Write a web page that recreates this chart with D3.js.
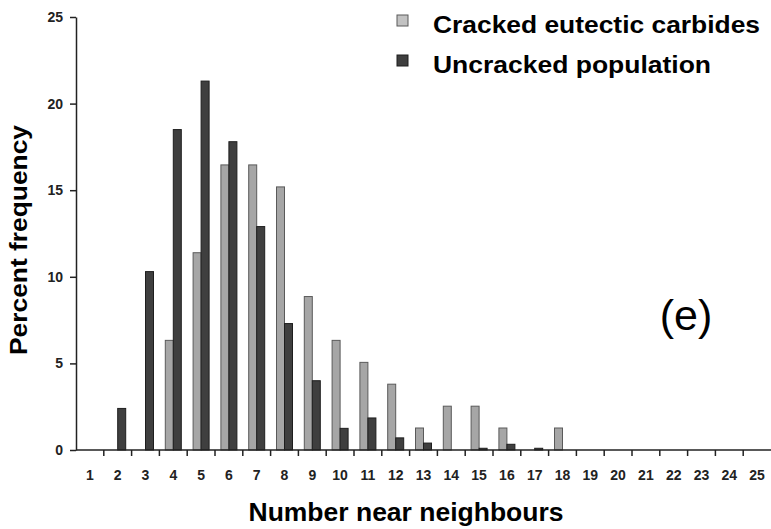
<!DOCTYPE html>
<html>
<head>
<meta charset="utf-8">
<script src="https://cdn.jsdelivr.net/npm/d3@7"></script>
<style>
  body { margin: 0; background: #fff; }
  text { font-family: "Liberation Sans", Arial, sans-serif; }
</style>
</head>
<body>
<svg id="chart" width="771" height="529"></svg>
<script>
// number of near neighbours (x categories)
const categories = d3.range(1, 26).map(String);
const seriesNames = ["Cracked eutectic carbides", "Uncracked population"];
// percent frequency
const cracked = [0, 0, 0, 6.33, 11.39, 16.46, 16.46, 15.19, 8.86, 6.33, 5.06, 3.8, 1.27,
  2.53, 2.53, 1.27, 0, 1.27, 0, 0, 0, 0, 0, 0, 0];
const uncracked = [0, 2.4, 10.3, 18.5, 21.3, 17.8, 12.9, 7.3, 4.0, 1.25, 1.85, 0.7, 0.4,
  0, 0.1, 0.33, 0.1, 0, 0, 0, 0, 0, 0, 0, 0];
const yTicks = [0, 5, 10, 15, 20, 25];

const fills = ["#a6a6a6", "#3f3f3f"];
const strokes = ["#5a5a5a", "#1e1e1e"];

const svg = d3.select("#chart");
const mLeft = 76, mRight = 771, mTop = 17, mBottom = 450;

const x = d3.scaleBand().domain(categories).range([mLeft, mRight]).padding(0);
const bw = x.bandwidth();
const xs = d3.scaleBand().domain(seriesNames).range([bw / 2 - 8, bw / 2 + 8]);
const y = d3.scaleLinear().domain([0, 25]).range([mBottom, mTop]);

// bars
const series = [cracked, uncracked];
series.forEach((vals, si) => {
  svg.append("g")
    .selectAll("rect")
    .data(vals.map((v, i) => ({ cat: categories[i], v })).filter(d => d.v > 0))
    .join("rect")
    .attr("x", d => x(d.cat) + xs(seriesNames[si]))
    .attr("y", d => y(d.v))
    .attr("width", xs.bandwidth())
    .attr("height", d => mBottom - y(d.v))
    .attr("fill", fills[si])
    .attr("stroke", strokes[si])
    .attr("stroke-width", 1);
});

// y axis
const yAxis = svg.append("g")
  .attr("transform", `translate(${mLeft},0)`)
  .call(d3.axisLeft(y).tickValues(yTicks).tickSize(6).tickPadding(7).tickSizeOuter(0));
yAxis.select(".domain").attr("stroke", "#222").attr("stroke-width", 1.5);
yAxis.selectAll(".tick line").attr("stroke", "#222").attr("stroke-width", 1.5);
yAxis.selectAll(".tick text")
  .attr("font-size", 14).attr("font-weight", "bold").attr("fill", "#222")
  .attr("font-family", "Liberation Sans, Arial, sans-serif");

// x axis: ticks on the category boundaries, labels centred in the bands
const xAxis = svg.append("g").attr("transform", `translate(0,${mBottom})`);
xAxis.append("line")
  .attr("x1", mLeft).attr("x2", mRight)
  .attr("stroke", "#222").attr("stroke-width", 1.5);
xAxis.selectAll(".xt")
  .data(categories.slice(1))
  .join("line")
  .attr("class", "xt")
  .attr("x1", d => x(d)).attr("x2", d => x(d))
  .attr("y1", 0).attr("y2", 6)
  .attr("stroke", "#222").attr("stroke-width", 1.5);
xAxis.selectAll(".xl")
  .data(categories)
  .join("text")
  .attr("class", "xl")
  .attr("x", d => x(d) + bw / 2)
  .attr("y", 30)
  .attr("text-anchor", "middle")
  .attr("font-size", 14).attr("font-weight", "bold").attr("fill", "#222")
  .text(d => d);

// axis titles
svg.append("text")
  .attr("x", 406).attr("y", 521)
  .attr("text-anchor", "middle")
  .attr("font-size", 25).attr("font-weight", "bold")
  .attr("textLength", 315).attr("lengthAdjust", "spacingAndGlyphs")
  .text("Number near neighbours");
svg.append("text")
  .attr("transform", "translate(27,240) rotate(-90)")
  .attr("text-anchor", "middle")
  .attr("font-size", 24).attr("font-weight", "bold")
  .attr("textLength", 230).attr("lengthAdjust", "spacingAndGlyphs")
  .text("Percent frequency");

// panel label
svg.append("text")
  .attr("x", 686).attr("y", 330)
  .attr("text-anchor", "middle")
  .attr("font-size", 43)
  .text("(e)");

// legend
const legendFills = ["#c2c2c2", "#3f3f3f"];
const legendWidths = [327, 278];
const legend = svg.append("g")
  .selectAll("g")
  .data(seriesNames)
  .join("g")
  .attr("transform", (d, i) => `translate(397,${15 + i * 40})`);
legend.append("rect")
  .attr("width", 11).attr("height", 11)
  .attr("fill", (d, i) => legendFills[i])
  .attr("stroke", (d, i) => strokes[i]).attr("stroke-width", 1);
legend.append("text")
  .attr("x", 36).attr("y", 18)
  .attr("font-size", 23).attr("font-weight", "bold")
  .attr("textLength", (d, i) => legendWidths[i]).attr("lengthAdjust", "spacingAndGlyphs")
  .text(d => d);
</script>
</body>
</html>
